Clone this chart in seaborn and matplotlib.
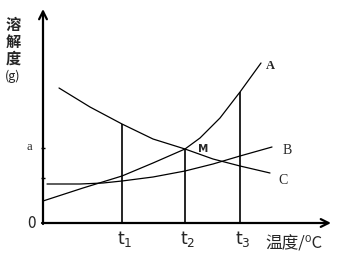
import matplotlib
matplotlib.use("Agg")
import matplotlib.pyplot as plt
import seaborn as sns
import pandas as pd

sns.set_style("white")
plt.rcParams['font.family'] = ['Noto Sans CJK SC', 'DejaVu Sans']

# Curve data (temperature units, solubility units)
a_x = [0, 40, 79, 110, 142, 157, 177, 197, 218]
a_y = [22, 35, 47, 60, 74, 85, 105, 131, 160]
b_x = [4, 37, 60, 79, 110, 142, 170, 197, 229]
b_y = [39, 39, 40, 42, 46, 52, 59, 67, 76]
c_x = [16, 47, 79, 110, 142, 170, 197, 227]
c_y = [135, 116, 99, 84, 74, 64, 57, 50]

t_pos = [79, 142, 197]
t_labels = [r'$\mathrm{t}_1$', r'$\mathrm{t}_2$', r'$\mathrm{t}_3$']
t_heights = [99, 74, 131]
a_level = 75
minor_level = 45

fig = plt.figure(figsize=(3.41, 2.58), dpi=100)
ax = fig.add_axes([0, 0, 1, 1])
ax.set_xlim(-43, 298)
ax.set_ylim(-35, 223)
ax.axis('off')

for xs, ys in [(a_x, a_y), (b_x, b_y), (c_x, c_y)]:
    df = pd.DataFrame({'x': xs, 'y': ys})
    sns.lineplot(data=df, x='x', y='y', ax=ax, color='black', lw=0.9,
                 estimator=None, sort=False)

ax.vlines(t_pos, 0, t_heights, color='black', lw=1.2)

# axes with arrows
ax.annotate('', xy=(0, 214), xytext=(0, -1),
            arrowprops=dict(arrowstyle='->', lw=1.6, color='black',
                            mutation_scale=14, shrinkA=0, shrinkB=0))
ax.annotate('', xy=(288, 0), xytext=(-1, 0),
            arrowprops=dict(arrowstyle='->', lw=1.6, color='black',
                            mutation_scale=14, shrinkA=0, shrinkB=0))
ax.hlines([a_level, minor_level], -2, 2, color='black', lw=1)

for x, lab in zip(t_pos, t_labels):
    ax.text(x + 3, -6, lab, ha='center', va='top', fontsize=12.5)

ax.text(-11, -1, '0', ha='center', va='center', fontsize=11)
ax.text(-14, a_level + 1, 'a', ha='center', va='center', fontsize=9,
        family='Liberation Serif')

for i, ch in enumerate(['溶', '解', '度']):
    ax.text(-30, 198 - i * 17, ch, ha='center', va='center', fontsize=11,
            weight='bold')
ax.text(-30, 147, '(g)', ha='center', va='center', fontsize=9)
ax.text(251, -21, '温度/⁰C', ha='center', va='center', fontsize=12)

ax.text(227, 157, 'A', ha='center', va='center', fontsize=9,
        family='Liberation Serif', weight='bold')
ax.text(160, 74, 'M', ha='center', va='center', fontsize=7.5, weight='bold',
        family='DejaVu Sans')
ax.text(244, 73, 'B', ha='center', va='center', fontsize=10,
        family='Liberation Serif')
ax.text(240, 42, 'C', ha='center', va='center', fontsize=10,
        family='Liberation Serif')

fig.savefig('out.png', dpi=100)
